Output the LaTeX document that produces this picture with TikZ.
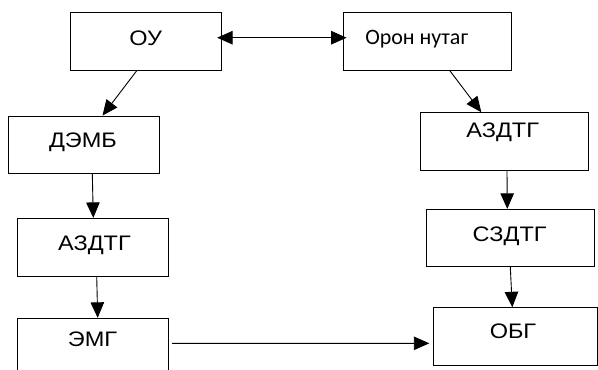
\documentclass[tikz,border=0pt]{standalone}
\usepackage{fontspec}
\usetikzlibrary{arrows.meta}
\newfontfamily\arialfont{Liberation Sans}
\newfontfamily\calfont{Carlito}
\newcommand{\widetext}[1]{\scalebox{1.12}[1]{#1}}
\tikzset{
  block/.style={draw, line width=0.9pt, inner sep=0pt},
  word/.style={inner sep=0pt, text height=15pt, text depth=0pt,
    font=\fontsize{21}{25}\selectfont\arialfont},
  head/.style={Triangle[length=15.5pt,width=13.5pt]},
  link/.style={line width=0.9pt, -{Triangle[length=15.5pt,width=13.5pt]}}
}
\begin{document}
\begin{tikzpicture}[x=1pt,y=-1pt]
  \useasboundingbox (0,0) rectangle (598,370);
  \fill [white] (0,0) rectangle (598,370);
  \clip (0,0) rectangle (598,370);

  %% boxes
  \foreach \name/\x/\y/\w/\h in {ou/146.2/41.5/151/57.6, oron/427.2/41.4/168.3/57.3,
    demb/83.5/144.7/151/57.3, azdtgR/504.7/141.7/168/58,
    azdtgL/92.8/247.2/151/57.7, emg/92.8/346.3/151/56,
    sdtg/510.5/238/168.4/57.4, obg/515.2/336.4/164.3/57.3}
    \node [block, minimum width=\w pt, minimum height=\h pt] (\name) at (\x,\y) {};

  %% texts
  \node [word] (ou-t) at (145.8,38.3) {\widetext{ОУ}};
  \node [word, text height=14.2pt, font=\fontsize{22}{26}\selectfont\calfont] (oron-t) at (416.7,37.7) {Орон нутаг};
  \node [word] (demb-t) at (83,139.7) {\widetext{ДЭМБ}};
  \node [word] (azdtgR-t) at (502.7,130) {\widetext{АЗДТГ}};
  \node [word] (azdtgL-t) at (94.5,243.3) {\widetext{АЗДТГ}};
  \node [word] (emg-t) at (92.5,339.2) {\widetext{ЭМГ}};
  \node [word] (sdtg-t) at (509.7,234.2) {\widetext{СЗДТГ}};
  \node [word] (obg-t) at (513,330.8) {\widetext{ОБГ}};

  %% arrows
  \draw [link, {Triangle[length=15.5pt,width=13.5pt]}-{Triangle[length=15.5pt,width=13.5pt]}] ([shift={(-5pt,3.8pt)}]ou.east) -- ([shift={(4pt,3.7pt)}]oron.west);
  \foreach \from/\dx/\to/\dy in {ou/-9.5/demb/19, oron/22.5/azdtgR/-23.4,
    demb/8.8/azdtgL/0.5, azdtgL/3.9/emg/4.9, azdtgR/2.3/sdtg/-3.2, sdtg/-0.2/obg/-2.9}
    \draw [link] ([xshift=\dx pt]\from.south) -- ([xshift=\dy pt]\to.north);
  \draw [link] ([shift={(3.4pt,3pt)}]emg.east) -- ([shift={(-3.3pt,-6.9pt)}]obg.west);
\end{tikzpicture}
\end{document}
